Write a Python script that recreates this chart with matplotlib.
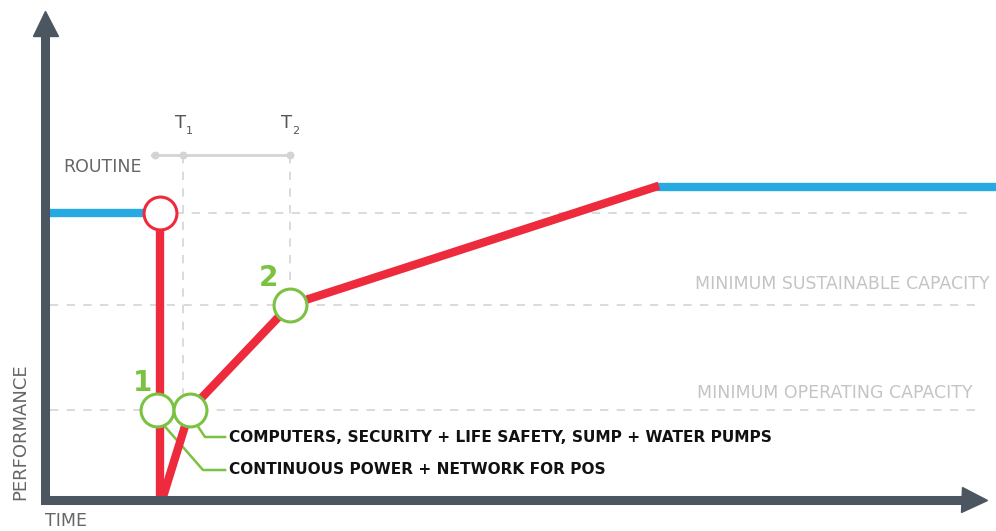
"""Business continuity diagram: performance over time after a disruption."""

import matplotlib.pyplot as plt

# Diagram coordinates (x = time, y = performance, y grows downward)
ROUTINE_X = [45, 148]
ROUTINE_Y = [213, 213]
RECOVERED_X = [655, 996]
RECOVERED_Y = [187, 187]
DROP_X = [160, 160]
DROP_Y = [225, 500]
RECOVERY_X = [162, 190, 290, 655]
RECOVERY_Y = [500, 410, 305, 187]

LEVEL_ROUTINE = 213
LEVEL_SUSTAINABLE = 305
LEVEL_OPERATING = 410
T1_X = 183
T2_X = 290
T_BAR_Y = 155

MILESTONES_X = [157, 190, 290]
MILESTONES_Y = [410, 410, 305]

CALLOUTS = [
    "COMPUTERS, SECURITY + LIFE SAFETY, SUMP + WATER PUMPS",
    "CONTINUOUS POWER + NETWORK FOR POS",
]

AXIS_COLOR = "#4b5660"
BLUE = "#27a9e1"
RED = "#ee2a3d"
GREEN = "#7bc242"
GRID = "#d4d4d4"
LIGHT_TEXT = "#c4c4c4"

plt.rcParams["font.family"] = ["DejaVu Sans"]

fig = plt.figure(figsize=(9.96, 5.31), dpi=100)
ax = fig.add_axes([0, 0, 1, 1])
ax.set_xlim(0, 996)
ax.set_ylim(531, 0)
ax.set_axis_off()

# dashed reference lines
dash = dict(color=GRID, lw=1.2, ls=(0, (5, 5)), zorder=1)
ax.plot([175, 975], [LEVEL_ROUTINE, LEVEL_ROUTINE], **dash)
ax.plot([50, 975], [LEVEL_SUSTAINABLE, LEVEL_SUSTAINABLE], **dash)
ax.plot([50, 975], [LEVEL_OPERATING, LEVEL_OPERATING], **dash)
ax.plot([T1_X, T1_X], [T_BAR_Y, LEVEL_OPERATING - 12], **dash)
ax.plot([T2_X, T2_X], [T_BAR_Y, LEVEL_SUSTAINABLE - 12], **dash)

# T1 - T2 bar
ax.plot([152, T2_X], [T_BAR_Y, T_BAR_Y], color=GRID, lw=2, zorder=1)
ax.scatter([155, T1_X, T2_X], [T_BAR_Y] * 3, s=22, color=GRID, zorder=2)
ax.text(T1_X - 2, 128, "T", fontsize=13, color="#555555", ha="center", va="baseline")
ax.text(T1_X + 3, 134, "1", fontsize=8, color="#555555", ha="left", va="baseline")
ax.text(T2_X - 3, 128, "T", fontsize=13, color="#555555", ha="center", va="baseline")
ax.text(T2_X + 2, 134, "2", fontsize=8, color="#555555", ha="left", va="baseline")
ax.text(63, 167, "ROUTINE", fontsize=12.5, color="#666666", va="center")

# axes with arrowheads
ax.plot([45, 45, 975], [28, 500, 500], color=AXIS_COLOR, lw=6.5,
        solid_joinstyle="miter", solid_capstyle="butt", zorder=5)
ax.plot([45], [23], marker="^", markersize=18, color=AXIS_COLOR, zorder=5)
ax.plot([974], [500], marker=">", markersize=18, color=AXIS_COLOR, zorder=5)
ax.text(20, 432, "PERFORMANCE", rotation=90, fontsize=13, color="#666666",
        ha="center", va="center")
ax.text(66, 521, "TIME", fontsize=12.5, color="#666666", ha="center", va="center")

# performance curve
ax.plot(ROUTINE_X, ROUTINE_Y, color=BLUE, lw=6, solid_capstyle="butt", zorder=3)
ax.plot(RECOVERED_X, RECOVERED_Y, color=BLUE, lw=6, solid_capstyle="butt", zorder=3)
ax.plot(DROP_X, DROP_Y, color=RED, lw=6, solid_capstyle="butt", zorder=3)
ax.plot(RECOVERY_X, RECOVERY_Y, color=RED, lw=6, solid_joinstyle="miter", zorder=3)
ax.scatter([160], [LEVEL_ROUTINE], s=560, facecolor="white", edgecolor=RED, lw=2.2, zorder=4)

# milestone circles
ax.scatter(MILESTONES_X, MILESTONES_Y, s=560, facecolor="white", edgecolor=GREEN,
           lw=2.2, zorder=4)
ax.text(142, 383, "1", fontsize=20, color=GREEN, fontweight="bold", ha="center", va="center")
ax.text(268, 278, "2", fontsize=20, color=GREEN, fontweight="bold", ha="center", va="center")

# callout leaders
ax.plot([195, 205, 225], [422, 437, 437], color=GREEN, lw=1.8, zorder=2)
ax.plot([161, 203, 225], [422, 470, 470], color=GREEN, lw=1.8, zorder=2)
ax.text(229, 437, CALLOUTS[0], fontsize=11.1, fontweight="bold", color="#111111", va="center")
ax.text(229, 470, CALLOUTS[1], fontsize=11.1, fontweight="bold", color="#111111", va="center")

ax.text(990, 284, "MINIMUM SUSTAINABLE CAPACITY", fontsize=12.5, color=LIGHT_TEXT,
        ha="right", va="center")
ax.text(973, 393, "MINIMUM OPERATING CAPACITY", fontsize=12.5, color=LIGHT_TEXT,
        ha="right", va="center")

fig.savefig("out.png", dpi=100, facecolor="white")
